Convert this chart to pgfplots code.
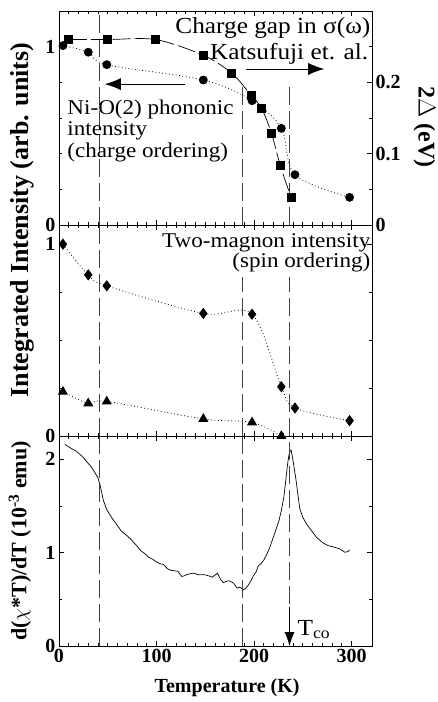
\documentclass[border=0pt]{standalone}
\usepackage{fontspec}
\setmainfont{Liberation Serif}
\newfontfamily\annotfont[FakeStretch=1.1]{Liberation Serif}
\usepackage{pgfplots}
\pgfplotsset{compat=1.18}
\usetikzlibrary{arrows.meta}

\begin{document}
\begin{tikzpicture}
\pgfplotsset{
  panel/.style={
    scale only axis, width=313pt,
    xmin=0, xmax=321,
    xtick={0,100,200,300}, minor x tick num=9,
    tick align=inside, xtick pos=both,
    major tick length=5pt, minor tick length=3pt,
    every tick/.style={black, line width=0.6pt},
    axis line style={line width=0.9pt},
    tick label style={font=\fontsize{20}{20}\selectfont\bfseries},
    /pgf/number format/assume math mode=true,
    clip=false,
  },
  dotline/.style={black, line width=0.8pt, dash pattern=on 0.8pt off 2.6pt, smooth, tension=0.55},
}
\tikzset{
  vdash/.style={black!75, line width=0.8pt, dash pattern=on 18pt off 6pt},
  annot/.style={font=\annotfont\fontsize{21}{22}\selectfont, inner sep=0pt},
  bigannot/.style={font=\annotfont\fontsize{23}{24}\selectfont, inner sep=0pt},
}

% ---- bottom panel: d(chi*T)/dT
\begin{axis}[panel, at={(0pt,0pt)}, anchor=south west, height=210pt,
  ymin=0, ymax=2.25, ytick={0,1,2}, minor ytick={0.5,1.5}, ytick pos=both]
\addplot[black, line width=0.7pt] coordinates {
(6,2.16)(12,2.12)(18,2.085)(24,2.03)(28,1.98)(33,1.92)(37,1.855)(40,1.80)
(42,1.73)(43.5,1.66)(45.5,1.56)(49,1.46)(55,1.36)(60,1.29)(64,1.23)(70,1.18)
(75,1.13)(80,1.07)(84,1.02)(88,0.99)(92,0.95)(96,0.93)(100,0.90)(104,0.88)
(107,0.875)(111,0.83)(115,0.81)(119,0.805)(122,0.80)(124,0.77)(126,0.745)
(128,0.75)(131,0.765)(135,0.775)(138,0.78)(141,0.77)(143,0.763)(147,0.765)
(150,0.762)(154,0.75)(157,0.737)(160,0.76)(162.5,0.78)(164,0.75)(166,0.71)
(168.5,0.678)(171,0.69)(174,0.70)(177,0.685)(179,0.673)(181,0.645)(183,0.62)
(185.5,0.632)(187.5,0.615)(189,0.60)(191,0.615)(194,0.65)(197,0.70)(199.5,0.755)
(202,0.79)(204.5,0.86)(207,0.88)(210,0.92)(213,0.98)(216,1.05)(218.5,1.128)
(222,1.23)(225.5,1.34)(228,1.45)(230.5,1.59)(232,1.72)(234,1.91)(235.5,2.03)
(237,2.09)(238,2.10)(239.5,2.02)(241,1.92)(242.5,1.82)(243.7,1.73)(245,1.62)
(247,1.47)(250,1.38)(254,1.305)(258,1.25)(264,1.165)(270,1.11)(276,1.075)
(282,1.06)(288,1.04)(293,1.005)(296,1.01)(298,1.03)
};
\draw[vdash] (axis cs:41.3,0) -- (axis cs:41.3,2.25);
\draw[vdash] (axis cs:188.4,0) -- (axis cs:188.4,2.25);
\draw[vdash] (axis cs:236.4,0.45) -- (axis cs:236.4,2.25);
\draw[line width=0.8pt, -{Latex[length=14pt,width=10pt]}] (axis cs:236.4,0.42) -- (axis cs:236.4,0);
\node[annot, anchor=base west, font=\annotfont\fontsize{23}{23}\selectfont] at (axis cs:244.5,0.117) {T\textsubscript{co}};
\node[font=\fontsize{20}{20}\selectfont\bfseries] at (rel axis cs:0.537,-0.2) {Temperature (K)};
\node[font=\fontsize{22}{22}\selectfont\bfseries, rotate=90] at (rel axis cs:-0.125,0.5)
  {d($\chi$*T)/dT (10\textsuperscript{-3} emu)};
\end{axis}

% ---- middle panel: two-magnon
\begin{axis}[panel, at={(0pt,210pt)}, anchor=south west, height=211pt,
  ymin=0, ymax=1.1, ytick={0,1}, minor ytick={0.25,0.5,0.75}, ytick pos=both,
  xticklabels={}]
\addplot[dotline, mark=diamond*, mark size=5pt, mark options={solid}] coordinates {
(4,1.0)(30,0.84)(49,0.783)(148,0.639)(198,0.635)(228,0.257)(242,0.146)(298,0.08)
};
\addplot[dotline, mark=triangle*, mark size=5pt, mark options={solid}] coordinates {
(4,0.231)(30,0.17)(49,0.18)(148,0.089)(198,0.071)(228,0)
};
\draw[vdash] (axis cs:41.3,0) -- (axis cs:41.3,1.1);
\draw[vdash] (axis cs:188.4,0) -- (axis cs:188.4,0.83);
\draw[vdash] (axis cs:236.4,0) -- (axis cs:236.4,0.83);
\node[annot, anchor=base east] at (axis cs:319.5,0.985) {Two-magnon intensity};
\node[annot, anchor=base east] at (axis cs:319.5,0.88) {(spin ordering)};
\node[font=\fontsize{26}{26}\selectfont\bfseries, rotate=90] at (rel axis cs:-0.118,1.024)
  {Integrated Intensity (arb. units)};
\end{axis}

% ---- top panel, left axis: Ni-O(2) phonon
\begin{axis}[panel, at={(0pt,421pt)}, anchor=south west, height=214pt,
  ymin=0, ymax=1.2, ytick={0,1}, minor ytick={0.2,0.4,0.6,0.8,1.2}, ytick pos=left,
  xticklabels={}]
\addplot[dotline, mark=*, mark size=4pt, mark options={solid}] coordinates {
(4,1.006)(30,0.969)(49,0.899)(148,0.813)(198,0.697)(228,0.542)(242,0.282)(298,0.155)
};
\draw[vdash] (axis cs:41.3,0) -- (axis cs:41.3,1.2);
\draw[vdash] (axis cs:188.4,0) -- (axis cs:188.4,0.8);
\draw[vdash] (axis cs:236.4,0) -- (axis cs:236.4,0.8);
\node[bigannot, anchor=base east] at (axis cs:319.5,1.075) {Charge gap in σ(ω)};
\node[bigannot, anchor=base] at (axis cs:236,0.93) {Katsufuji et. al.};
\draw[line width=0.8pt, -{Latex[length=16pt,width=12pt]}] (axis cs:192,0.875) -- (axis cs:272,0.875);
\draw[line width=0.8pt, -{Latex[length=16pt,width=12pt]}] (axis cs:129,0.79) -- (axis cs:47,0.79);
\node[annot, anchor=base west] at (axis cs:8.5,0.62) {Ni-O(2) phononic};
\node[annot, anchor=base west] at (axis cs:8.5,0.50) {intensity};
\node[annot, anchor=base west] at (axis cs:8.5,0.38) {(charge ordering)};
\end{axis}

% ---- top panel, right axis: charge gap
\begin{axis}[panel, at={(0pt,421pt)}, anchor=south west, height=214pt,
  axis x line=none, axis y line*=right,
  ymin=0, ymax=0.3, ytick={0,0.1,0.2}, minor ytick={0.05,0.15,0.25}]
\addplot[black, line width=0.7pt, dash pattern=on 18pt off 4pt, smooth, tension=0.5,
  mark=square*, mark size=4pt, mark options={solid}] coordinates {
(10,0.26)(50,0.26)(99,0.26)(148,0.238)(177,0.213)(197,0.182)(208,0.163)(218,0.128)(227,0.083)(238,0.039)
};
\node[font=\fontsize{24}{24}\selectfont\bfseries, rotate=-90] at (rel axis cs:1.168,0.458) {2$\Delta$ (eV)};
\end{axis}

\pgfresetboundingbox
\path[use as bounding box] (-59pt,-56pt) rectangle (379pt,646pt);
\end{tikzpicture}
\end{document}
